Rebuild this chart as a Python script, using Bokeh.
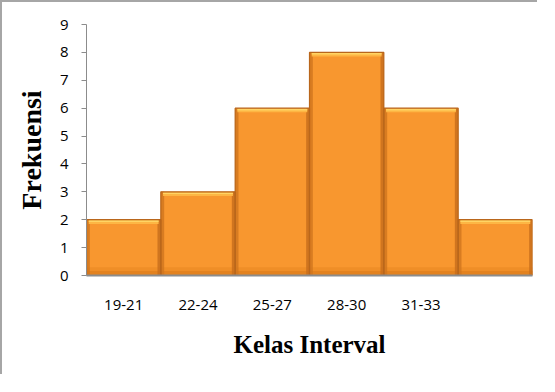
from bokeh.plotting import figure
from bokeh.models import FixedTicker, Range1d
from bokeh.embed import file_html
from bokeh.resources import INLINE

categories = ["19-21", "22-24", "25-27", "28-30", "31-33", ""]
frequencies = [2, 3, 6, 8, 6, 2]
y_ticks = [0, 1, 2, 3, 4, 5, 6, 7, 8, 9]

xs = list(range(len(categories)))

p = figure(width=537, height=374, output_backend="svg", toolbar_location=None,
           x_range=Range1d(-0.5, len(categories) - 0.5), y_range=Range1d(0, 9),
           min_border_left=84, min_border_top=22, min_border_right=7, min_border_bottom=101,
           styles={"border-left": "2px solid #A6A6A6", "border-top": "2px solid #A6A6A6"})
p.background_fill_color = "white"
p.border_fill_color = "white"
p.outline_line_color = None
p.xgrid.visible = False
p.ygrid.visible = False

lefts = [x - 0.5 for x in xs]
rights = [x + 0.5 for x in xs]

# main bars
p.quad(left=lefts, right=rights, top=frequencies, bottom=0,
       fill_color="#F8972F", line_color=None)
# bottom darker shading
p.quad(left=lefts, right=rights, top=[min(f, 0.16) for f in frequencies], bottom=0,
       fill_color="#E17E1F", line_color=None)
p.quad(left=lefts, right=rights, top=[min(f, 0.3) for f in frequencies], bottom=0,
       fill_color="#E6861F", line_color=None, fill_alpha=0.5)
# side bevels
p.quad(left=lefts, right=[x - 0.455 for x in xs], top=frequencies, bottom=0,
       fill_color="#D0761E", line_color=None, fill_alpha=0.8)
p.quad(left=[x + 0.455 for x in xs], right=rights, top=frequencies, bottom=0,
       fill_color="#C96F1C", line_color=None, fill_alpha=0.85)
# top bevel highlight
p.quad(left=[x - 0.47 for x in xs], right=[x + 0.47 for x in xs],
       top=[f - 0.02 for f in frequencies], bottom=[f - 0.15 for f in frequencies],
       fill_color="#FDB644", line_color=None)
p.quad(left=[x - 0.47 for x in xs], right=[x + 0.47 for x in xs],
       top=[f - 0.02 for f in frequencies], bottom=[f - 0.08 for f in frequencies],
       fill_color="#FFD464", line_color=None)
# outline
p.quad(left=lefts, right=rights, top=frequencies, bottom=0,
       fill_color=None, line_color="#B9661B", line_width=1.2)

# y axis
p.yaxis.ticker = FixedTicker(ticks=y_ticks)
p.yaxis.minor_tick_line_color = None
p.yaxis.major_tick_in = 0
p.yaxis.major_tick_out = 5
p.yaxis.axis_line_color = "#8C8C8C"
p.yaxis.major_tick_line_color = "#8C8C8C"
p.yaxis.major_label_standoff = 13
p.yaxis.major_label_text_font = "Open Sans"
p.yaxis.major_label_text_font_size = "15px"
p.yaxis.major_label_text_color = "black"
p.yaxis.axis_label = "Frekuensi"
p.yaxis.axis_label_text_font = "Liberation Serif"
p.yaxis.axis_label_text_font_style = "bold"
p.yaxis.axis_label_text_font_size = "28px"
p.yaxis.axis_label_text_color = "black"
p.yaxis.axis_label_standoff = 10

# x axis
p.xaxis.ticker = FixedTicker(ticks=xs)
p.xaxis.major_label_overrides = {i: c for i, c in zip(xs, categories)}
p.xaxis.minor_tick_line_color = None
p.xaxis.major_tick_line_color = None
p.xaxis.major_tick_in = 0
p.xaxis.major_tick_out = 0
p.xaxis.axis_line_color = "#8C8C8C"
p.xaxis.axis_line_width = 2
p.xaxis.major_label_standoff = 24
p.xaxis.major_label_text_font = "Open Sans"
p.xaxis.major_label_text_font_size = "15px"
p.xaxis.major_label_text_color = "black"
p.xaxis.axis_label = "Kelas Interval"
p.xaxis.axis_label_text_font = "Liberation Serif"
p.xaxis.axis_label_text_font_style = "bold"
p.xaxis.axis_label_text_font_size = "25px"
p.xaxis.axis_label_text_color = "black"
p.xaxis.axis_label_standoff = 18

open("out.html", "w").write(file_html(p, INLINE))
